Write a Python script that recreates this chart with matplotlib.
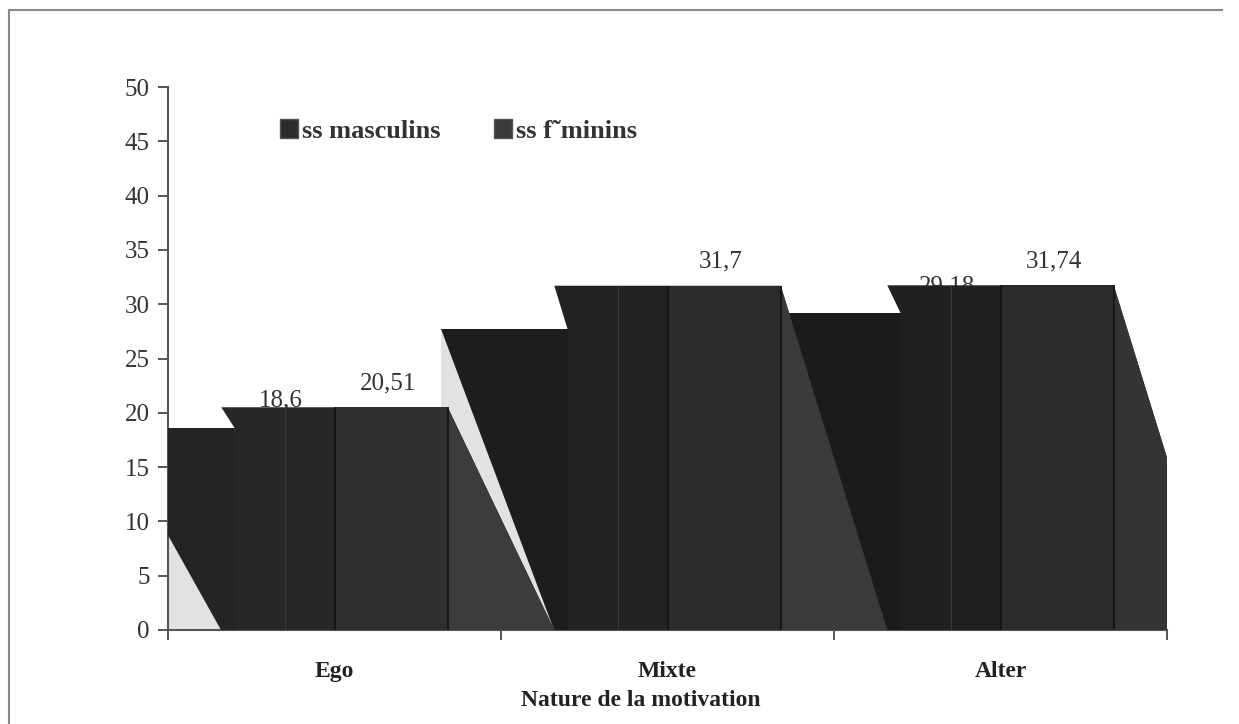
import matplotlib.pyplot as plt
from matplotlib.patches import Polygon, Patch, Rectangle
from matplotlib.lines import Line2D

# values
categories = ['Ego', 'Mixte', 'Alter']
masculins = [18.6, 27.7, 29.18]
feminins = [20.51, 31.7, 31.74]
series_names = ['ss masculins', 'ss f\u02dcminins']
y_ticks = list(range(0, 51, 5))

plt.rcParams['font.family'] = ['Liberation Serif', 'DejaVu Serif']

W, H = 1239, 724
fig = plt.figure(figsize=(W / 100, H / 100), dpi=100)
ax = fig.add_axes([168 / W, 94 / H, 999 / W, 543 / H])

# greys of the scan, one per group (left block, middle, front, slanted face)
left_col = ['#242424', '#1d1d1d', '#1b1b1b']
mid_col = ['#272727', '#222222', '#202020']
front_col = ['#2f2f2f', '#2b2b2b', '#2b2b2b']
face_col = ['#3c3c3c', '#3a3a3a', '#343434']


def fmt(v):
    return f"{v:g}".replace('.', ',')


# draw right to left so the left group sits in front (as in the scan)
for i in reversed(range(len(categories))):
    c = i + 0.5
    m, f = masculins[i], feminins[i]
    z = 3 + (len(categories) - i) * 6
    # light floor triangle under the left slant
    ax.add_patch(Polygon([(c - 0.68, m), (c - 0.34, 0), (c - 0.68, 0)],
                         fc='#e2e2e2', lw=0, zorder=1))
    # masculins block with its slanted left side
    ax.add_patch(Polygon([(c - 0.68, m), (c - 0.30, m), (c - 0.30, 0), (c - 0.34, 0)],
                         fc=left_col[i], lw=0, zorder=z))
    # feminins block (stepped up) with slanted right face
    ax.add_patch(Polygon([(c - 0.34, f), (c + 0.34, f), (c + 0.66, 0),
                          (c - 0.30, 0), (c - 0.30, m)],
                         fc=mid_col[i], lw=0, zorder=z + 1))
    ax.add_patch(Rectangle((c, 0), 0.34, f, fc=front_col[i], lw=0, zorder=z + 2))
    ax.add_patch(Polygon([(c + 0.34, f), (c + 0.66, 0), (c + 0.34, 0)],
                         fc=face_col[i], lw=0, zorder=z + 3))
    ax.vlines([c, c + 0.34], 0, f, color='#141414', lw=1.3, zorder=z + 4)
    ax.vlines(c - 0.15, 0, f, color='#3a3a3a', lw=0.8, zorder=z + 4)

    # value labels: masculins label ends up half hidden behind the blocks
    ax.text(c - 0.16, m + 2.5, fmt(m), ha='center', va='center', fontsize=18,
            color='#333333', zorder=2)
    ax.text(c + 0.16, f + 2.2, fmt(f), ha='center', va='center', fontsize=18,
            color='#333333', zorder=50)

ax.set_xlim(0, 3)
ax.set_ylim(0, 50)
ax.set_yticks(y_ticks)
ax.set_yticklabels([str(t) for t in y_ticks], fontsize=18, color='#333333')
ax.set_xticks(range(len(categories) + 1))
ax.set_xticklabels([])
ax.set_xticks([i + 0.5 for i in range(len(categories))], minor=True)
ax.set_xticklabels(categories, minor=True, fontsize=17, fontweight='bold', color='#222222')
ax.tick_params(axis='x', which='minor', length=0, pad=22)
ax.tick_params(axis='both', which='major', length=7, width=1.4, color='#555555')
ax.tick_params(axis='y', pad=6)
for s in ['top', 'right']:
    ax.spines[s].set_visible(False)
for s in ['left', 'bottom']:
    ax.spines[s].set_color('#555555')
    ax.spines[s].set_linewidth(1.5)

handles = [Patch(fc='#2b2b2b', ec='#555555'), Patch(fc='#3a3a3a', ec='#555555')]
leg = ax.legend(handles, series_names, loc='center left', bbox_to_anchor=(0.112, 0.919),
                ncol=2, frameon=False, prop={'weight': 'bold', 'size': 19},
                handlelength=0.7, handleheight=0.7, handletextpad=0.15,
                columnspacing=2.0, borderaxespad=0, borderpad=0)
for t in leg.get_texts():
    t.set_color('#333333')

fig.text(641 / W, 1 - 700 / H, 'Nature de la motivation', ha='center', va='center',
         fontsize=17, fontweight='bold', color='#222222')

# outer frame of the scanned figure
fig.add_artist(Line2D([9 / W, 9 / W], [0, 1 - 10 / H], color='#888888', lw=1.5))
fig.add_artist(Line2D([9 / W, 1222 / W], [1 - 10 / H, 1 - 10 / H], color='#888888', lw=1.5))

fig.savefig('out.png', dpi=100)
